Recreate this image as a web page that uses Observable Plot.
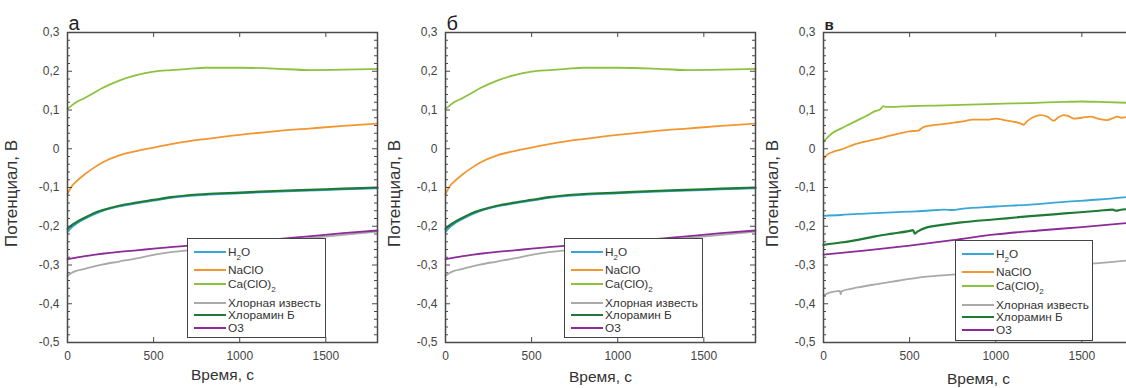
<!DOCTYPE html>
<html><head><meta charset="utf-8">
<script src="https://cdn.jsdelivr.net/npm/d3@7"></script>
<script src="https://cdn.jsdelivr.net/npm/@observablehq/plot@0.6"></script>
<style>
html,body{margin:0;padding:0;background:#fff;overflow:hidden;width:1126px;height:388px;}
#wrap{position:relative;width:1126px;height:388px;overflow:hidden;font-family:"Liberation Sans",Arial,sans-serif;}
.panel{position:absolute;top:0;}
.legend{position:absolute;background:#fff;border:1px solid #444;box-sizing:border-box;}
.row{position:absolute;left:0;height:14px;margin-top:-7px;display:flex;align-items:center;white-space:nowrap;font-size:11.8px;color:#333;}
.sw{width:32px;height:2px;margin-left:6px;margin-right:2px;}
.row sub{font-size:8px;vertical-align:-4px;line-height:0;}
</style>
</head><body><div id="wrap"></div>
<script>
// ---------- data ----------
const seriesNames = ["H2O", "NaClO", "Ca(ClO)2", "Хлорная известь", "Хлорамин Б", "O3"];
const seriesColors = ["#3aa6d6", "#f29630", "#8dc23f", "#a9a9a9", "#1f7a36", "#8b2b97"];
const panelLetters = ["а", "б", "в"];
const xTickLabels = [0, 500, 1000, 1500];
const yTickLabels = [0.3, 0.2, 0.1, 0, -0.1, -0.2, -0.3, -0.4, -0.5];

// panels а and б (same measurements)
const timeAB = [0, 25, 50, 100, 150, 200, 300, 400, 500, 600, 700, 800, 1000, 1200, 1400, 1600, 1800];
const h2oAB      = [-0.215, -0.203, -0.194, -0.181, -0.170, -0.161, -0.149, -0.141, -0.134, -0.127, -0.122, -0.119, -0.115, -0.111, -0.108, -0.105, -0.102];
const naclAB     = [-0.117, -0.097, -0.085, -0.066, -0.050, -0.036, -0.017, -0.006, 0.003, 0.012, 0.019, 0.025, 0.036, 0.045, 0.052, 0.059, 0.065];
const caAB       = [0.103, 0.112, 0.120, 0.131, 0.143, 0.156, 0.176, 0.190, 0.199, 0.203, 0.206, 0.209, 0.209, 0.207, 0.203, 0.204, 0.206];
const limeAB     = [-0.328, -0.320, -0.315, -0.310, -0.304, -0.299, -0.291, -0.283, -0.274, -0.267, -0.262, -0.257, -0.249, -0.240, -0.231, -0.222, -0.214];
const chloramAB  = [-0.207, -0.197, -0.190, -0.178, -0.167, -0.159, -0.147, -0.139, -0.132, -0.125, -0.120, -0.117, -0.113, -0.109, -0.106, -0.103, -0.100];
const ozoneAB    = [-0.285, -0.283, -0.281, -0.277, -0.274, -0.271, -0.266, -0.262, -0.258, -0.254, -0.250, -0.247, -0.241, -0.234, -0.226, -0.218, -0.211];

// panel в
const timeH2oC = [0, 100, 200, 300, 400, 500, 600, 700, 750, 800, 1000, 1200, 1400, 1600, 1800];
const h2oC     = [-0.173, -0.171, -0.168, -0.166, -0.164, -0.162, -0.160, -0.157, -0.158, -0.155, -0.149, -0.144, -0.137, -0.131, -0.123];
const timeNaclC = [0, 20, 50, 100, 200, 300, 400, 500, 550, 580, 680, 800, 870, 950, 1000, 1050, 1100, 1140, 1163, 1180, 1220, 1260, 1300, 1337, 1360, 1395, 1420, 1453, 1500, 1550, 1600, 1647, 1680, 1705, 1730, 1760, 1800];
const naclC     = [-0.027, -0.016, -0.009, -0.002, 0.014, 0.024, 0.035, 0.045, 0.047, 0.056, 0.063, 0.070, 0.075, 0.075, 0.078, 0.074, 0.070, 0.066, 0.062, 0.070, 0.082, 0.087, 0.083, 0.072, 0.080, 0.087, 0.085, 0.078, 0.080, 0.083, 0.077, 0.074, 0.079, 0.083, 0.080, 0.082, 0.084];
const timeCaC = [0, 25, 50, 100, 150, 200, 250, 300, 330, 348, 360, 400, 500, 700, 1000, 1200, 1400, 1500, 1600, 1800];
const caC     = [0.018, 0.030, 0.040, 0.052, 0.063, 0.074, 0.085, 0.097, 0.102, 0.110, 0.108, 0.108, 0.110, 0.112, 0.116, 0.118, 0.121, 0.122, 0.121, 0.118];
const timeLimeC = [0, 30, 60, 95, 100, 105, 200, 300, 400, 500, 600, 750, 1000, 1200, 1400, 1600, 1800];
const limeC     = [-0.379, -0.372, -0.369, -0.367, -0.376, -0.368, -0.358, -0.350, -0.343, -0.336, -0.330, -0.325, -0.315, -0.307, -0.301, -0.295, -0.287];
const timeChloramC = [0, 100, 200, 300, 400, 500, 520, 530, 545, 600, 700, 800, 1000, 1200, 1400, 1600, 1680, 1700, 1720, 1800];
const chloramC     = [-0.248, -0.242, -0.235, -0.226, -0.219, -0.212, -0.210, -0.219, -0.214, -0.203, -0.196, -0.190, -0.182, -0.174, -0.167, -0.160, -0.157, -0.160, -0.158, -0.155];
const timeOzoneC = [0, 250, 500, 750, 1000, 1250, 1500, 1800];
const ozoneC     = [-0.273, -0.262, -0.250, -0.236, -0.221, -0.211, -0.202, -0.190];

// ---------- build ----------
const W = 380, H = 388, ML = 67, MR = 3, MT = 32, MB = 46;
const PW = W - ML - MR, PH = H - MT - MB;
const fmt = d => d === 0 ? "0" : d.toFixed(1).replace(".", ",");
const yMinor = d3.range(-25, 16).map(i => +(i * 0.02).toFixed(2)).filter(v => Math.abs(Math.round(v * 10) - v * 10) > 1e-6);
const xMajor = xTickLabels.filter(d => d > 0);

function rows(times, vals) { return times.map((t, i) => ({t, v: vals[i]})); }

const panelsData = [
  [rows(timeAB, h2oAB), rows(timeAB, naclAB), rows(timeAB, caAB), rows(timeAB, limeAB), rows(timeAB, chloramAB), rows(timeAB, ozoneAB)],
  [rows(timeAB, h2oAB), rows(timeAB, naclAB), rows(timeAB, caAB), rows(timeAB, limeAB), rows(timeAB, chloramAB), rows(timeAB, ozoneAB)],
  [rows(timeH2oC, h2oC), rows(timeNaclC, naclC), rows(timeCaC, caC), rows(timeLimeC, limeC), rows(timeChloramC, chloramC), rows(timeOzoneC, ozoneC)]
];
const panelLeft = [0, 378, 756];
const xTitleDy = [33, 35, 37];
const yTitleDx = [-56, -51, -51];
const letterSize = [20, 20, 15];
const letterWeight = ["normal", "normal", "bold"];
const legendPos = [[187, 238, 139, 100], [564, 238, 139, 100], [955, 240, 138, 101]];
const legendRowY = [12.5, 31, 45, 63.5, 75.5, 89];
const legendHtml = ["H<sub>2</sub>O", "NaClO", "Ca(ClO)<sub>2</sub>", "Хлорная известь", "Хлорамин Б", "O3"];

const wrap = document.getElementById("wrap");
const axisColor = "#4a4a4a";

panelsData.forEach((series, p) => {
  const lineMarks = series.map((s, i) => Plot.line(s, {x: "t", y: "v", stroke: seriesColors[i], strokeWidth: i === 4 ? 2.2 : 1.8, curve: "monotone-x"}));
  const svg = Plot.plot({
    width: W, height: H,
    marginTop: MT, marginBottom: MB, marginLeft: ML, marginRight: MR,
    x: {domain: [0, 1800]},
    y: {domain: [-0.5, 0.3]},
    style: {fontFamily: "'Liberation Sans', Arial, sans-serif", background: "transparent", overflow: "visible"},
    marks: [
      ...lineMarks,
      Plot.tickY(yTickLabels, {y: d => d, insetRight: PW - 5, stroke: axisColor}),
      Plot.tickY(yTickLabels, {y: d => d, insetLeft: PW - 5, stroke: axisColor}),
      Plot.tickY(yMinor, {y: d => d, insetRight: PW - 3, stroke: axisColor}),
      Plot.tickY(yMinor, {y: d => d, insetLeft: PW - 3, stroke: axisColor}),
      Plot.tickX(xMajor, {x: d => d, insetBottom: PH - 5, stroke: axisColor}),
      Plot.tickX(xMajor, {x: d => d, insetTop: PH - 5, stroke: axisColor}),
      Plot.frame({stroke: axisColor, strokeWidth: 1.5}),
      Plot.axisY(yTickLabels, {tickSize: 0, tickPadding: 8, tickFormat: fmt, fontSize: 12, fill: "#444", label: null}),
      Plot.axisX(xTickLabels, {tickSize: 0, tickPadding: 9, tickFormat: d => String(d), fontSize: 12, fill: "#444", label: null}),
      Plot.text(["Потенциал, В"], {text: d => d, frameAnchor: "left", textAnchor: "middle", lineAnchor: "middle", rotate: -90, dx: yTitleDx[p], dy: 6, fontSize: 17, fill: "#333"}),
      Plot.text(["Время, с"], {text: d => d, frameAnchor: "bottom", textAnchor: "middle", lineAnchor: "middle", dy: xTitleDy[p], fontSize: 15.5, fill: "#333"}),
      Plot.text([panelLetters[p]], {text: d => d, frameAnchor: "top-left", textAnchor: "start", lineAnchor: "bottom", dx: 1, dy: -3, fontSize: letterSize[p], fontWeight: letterWeight[p], fill: "#222"})
    ]
  });
  svg.classList.add("panel");
  svg.style.left = panelLeft[p] + "px";
  wrap.appendChild(svg);

  const [lx, ly, lw, lh] = legendPos[p];
  const lg = document.createElement("div");
  lg.className = "legend";
  lg.style.left = lx + "px"; lg.style.top = ly + "px";
  lg.style.width = lw + "px"; lg.style.height = lh + "px";
  seriesNames.forEach((name, i) => {
    const r = document.createElement("div");
    r.className = "row";
    r.style.top = legendRowY[i] + "px";
    r.innerHTML = `<div class="sw" style="background:${seriesColors[i]}"></div><span>${legendHtml[i]}</span>`;
    lg.appendChild(r);
  });
  wrap.appendChild(lg);
});
</script>
</body></html>
